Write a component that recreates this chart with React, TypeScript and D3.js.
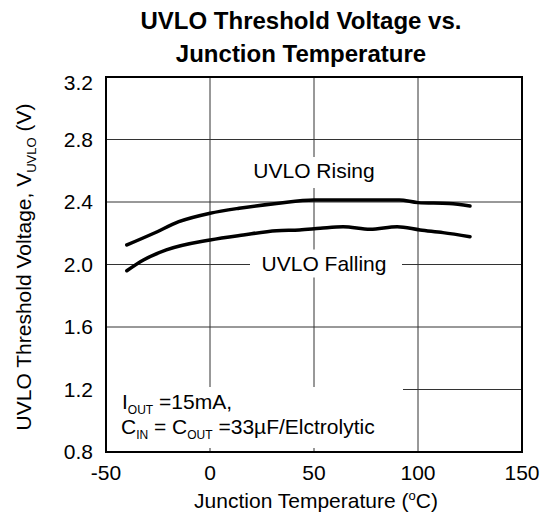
import React from "react";
import * as d3 from "d3";

const risingTemps = [-40, -27, -15, 0, 14, 32, 50, 91, 100, 115, 125];
const risingVolts = [2.125, 2.2, 2.274, 2.328, 2.36, 2.39, 2.413, 2.413, 2.396, 2.39, 2.374];
const fallingTemps = [-40, -32, -21, 0, 16, 32, 43, 53, 64, 77, 90, 101, 112, 125];
const fallingVolts = [1.96, 2.029, 2.093, 2.157, 2.189, 2.216, 2.221, 2.232, 2.242, 2.225, 2.242, 2.221, 2.204, 2.178];
const xTicks = [-50, 0, 50, 100, 150];
const yTicks = [0.8, 1.2, 1.6, 2.0, 2.4, 2.8, 3.2];

const FONT = "'Liberation Sans', Arial, Helvetica, sans-serif";

export default function App() {
  const left = 106, right = 522, top = 77, bottom = 452;
  const x = d3.scaleLinear().domain([-50, 150]).range([left, right]);
  const y = d3.scaleLinear().domain([0.8, 3.2]).range([bottom, top]);
  const line = d3
    .line<[number, number]>()
    .x((d) => x(d[0]))
    .y((d) => y(d[1]))
    .curve(d3.curveMonotoneX);
  const rising = risingTemps.map((t, i) => [t, risingVolts[i]] as [number, number]);
  const falling = fallingTemps.map((t, i) => [t, fallingVolts[i]] as [number, number]);
  const grid = "#333";
  const fs = 21;

  return (
    <svg
      width={544}
      height={521}
      style={{ position: "absolute", left: 0, top: 0, background: "#fff" }}
      fontFamily={FONT}
    >
      <rect x={0} y={0} width={544} height={521} fill="#fff" />
      {/* title */}
      <text x={301} y={29} textAnchor="middle" fontSize={24} fontWeight="bold" fill="#000">
        UVLO Threshold Voltage vs.
      </text>
      <text x={301} y={62} textAnchor="middle" fontSize={24} fontWeight="bold" fill="#000">
        Junction Temperature
      </text>

      {/* gridlines */}
      {xTicks.slice(1, -1).map((t) => (
        <line key={"gx" + t} x1={x(t)} x2={x(t)} y1={top} y2={bottom} stroke={grid} strokeWidth={1} />
      ))}
      {yTicks.slice(1, -1).map((t) => (
        <line key={"gy" + t} x1={left} x2={right} y1={y(t)} y2={y(t)} stroke={grid} strokeWidth={1} />
      ))}

      {/* white label boxes */}
      <rect x={x(50) - 8} y={157} width={16} height={31} fill="#fff" />
      <rect x={250} y={y(2.0) - 15} width={152} height={28} fill="#fff" />
      <rect x={left + 1} y={387} width={403 - left - 1} height={61} fill="#fff" />

      {/* curves */}
      <path d={line(rising) || ""} fill="none" stroke="#000" strokeWidth={3.5} strokeLinecap="round" strokeLinejoin="round" />
      <path d={line(falling) || ""} fill="none" stroke="#000" strokeWidth={3.5} strokeLinecap="round" strokeLinejoin="round" />

      {/* frame */}
      <rect x={left} y={top} width={right - left} height={bottom - top} fill="none" stroke="#000" strokeWidth={2} />

      {/* curve labels */}
      <text x={x(50)} y={178} textAnchor="middle" fontSize={fs} fill="#000">
        UVLO Rising
      </text>
      <text x={324} y={y(2.0) + 6} textAnchor="middle" fontSize={fs} fill="#000">
        UVLO Falling
      </text>

      {/* conditions */}
      <text x={122} y={409} fontSize={fs} fill="#000">
        I<tspan fontSize={12} dy={5}>OUT</tspan>
        <tspan dy={-5}> =15mA,</tspan>
      </text>
      <text x={121} y={434} fontSize={fs} fill="#000">
        C<tspan fontSize={12} dy={5}>IN</tspan>
        <tspan dy={-5}> = C</tspan>
        <tspan fontSize={12} dy={5}>OUT</tspan>
        <tspan dy={-5}> =33µF/Elctrolytic</tspan>
      </text>

      {/* y tick labels */}
      {yTicks.map((t) => (
        <text
          key={"yl" + t}
          x={93}
          y={(t === 3.2 ? y(t) + 6 : y(t)) + 7}
          textAnchor="end"
          fontSize={fs}
          fill="#000"
        >
          {t.toFixed(1)}
        </text>
      ))}
      {/* x tick labels */}
      {xTicks.map((t) => (
        <text key={"xl" + t} x={x(t)} y={480} textAnchor="middle" fontSize={fs} fill="#000">
          {t}
        </text>
      ))}

      {/* axis titles */}
      <text x={316} y={508} textAnchor="middle" fontSize={fs} fill="#000">
        Junction Temperature (<tspan fontSize={13} dy={-8}>o</tspan>
        <tspan dy={8}>C)</tspan>
      </text>
      <text transform="translate(31,267) rotate(-90)" textAnchor="middle" fontSize={fs} fill="#000">
        UVLO Threshold Voltage, V<tspan fontSize={13} dy={5}>UVLO</tspan>
        <tspan dy={-5}> (V)</tspan>
      </text>
    </svg>
  );
}
